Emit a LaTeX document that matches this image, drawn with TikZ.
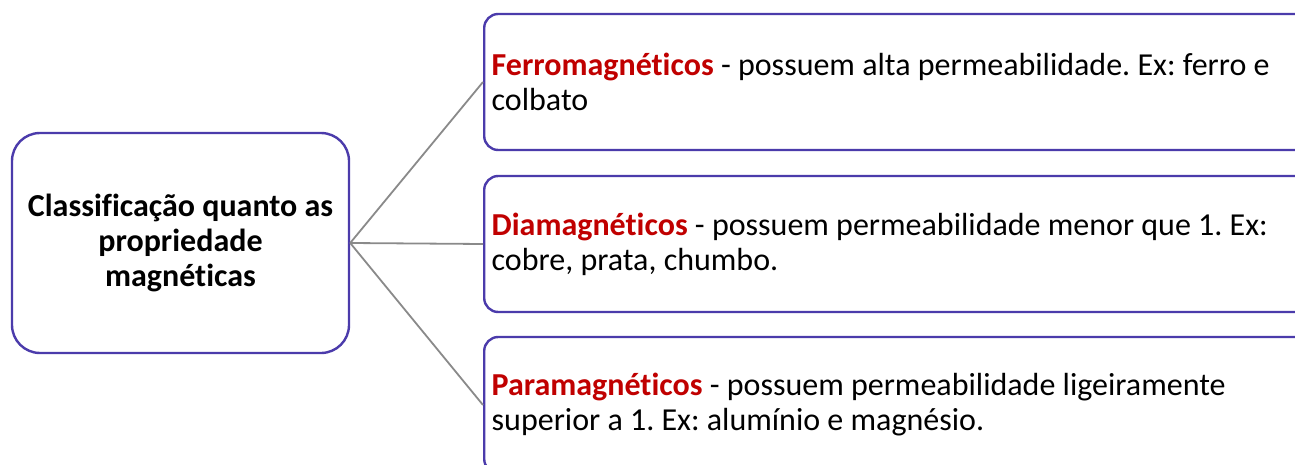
\documentclass[tikz,border=0pt]{standalone}
\usepackage{fontspec}
\setmainfont{Carlito}[Ligatures=NoCommon]
\usepackage{xcolor}
\definecolor{boxline}{HTML}{4B3BAB}
\definecolor{keyred}{HTML}{C00000}
\definecolor{linkgray}{HTML}{8A8A8A}
\usepackage{tikz}
\frenchspacing

\begin{document}
\begin{tikzpicture}[x=1pt,y=-1pt,
  mainbox/.style={draw=boxline,line width=2.4pt,rounded corners=28pt,
    minimum width=337pt,minimum height=220pt,align=center,
    font=\fontsize{32}{35}\selectfont\bfseries},
  typebox/.style={draw=boxline,line width=2.4pt,rounded corners=14pt,
    minimum width=830pt,minimum height=136pt,text width=815pt,inner xsep=5pt,
    align=flush left,font=\fontsize{32}{35}\selectfont},
  link/.style={draw=linkgray,line width=1.8pt}]
\useasboundingbox (0,0) rectangle (1295,465);
\clip (0,0) rectangle (1295,465);
\node[mainbox] (C) at (180.5,243) {Classificação quanto as\\propriedade\\magnéticas};
\node[typebox,anchor=west] (F) at (483,82) {\textcolor{keyred}{\textbf{Ferromagnéticos}} - possuem alta permeabilidade. Ex: ferro e\\colbato};
\node[typebox,anchor=west] (D) at (483,244) {\textcolor{keyred}{\textbf{Diamagnéticos}} - possuem permeabilidade menor que 1. Ex:\\cobre, prata, chumbo.};
\node[typebox,anchor=west] (P) at (483,405) {\textcolor{keyred}{\textbf{Paramagnéticos}} - possuem permeabilidade ligeiramente\\superior a 1. Ex: alumínio e magnésio.};
\draw[link] (C.east)--(F.west);
\draw[link] (C.east)--(D.west);
\draw[link] (C.east)--(P.west);
\end{tikzpicture}
\end{document}
